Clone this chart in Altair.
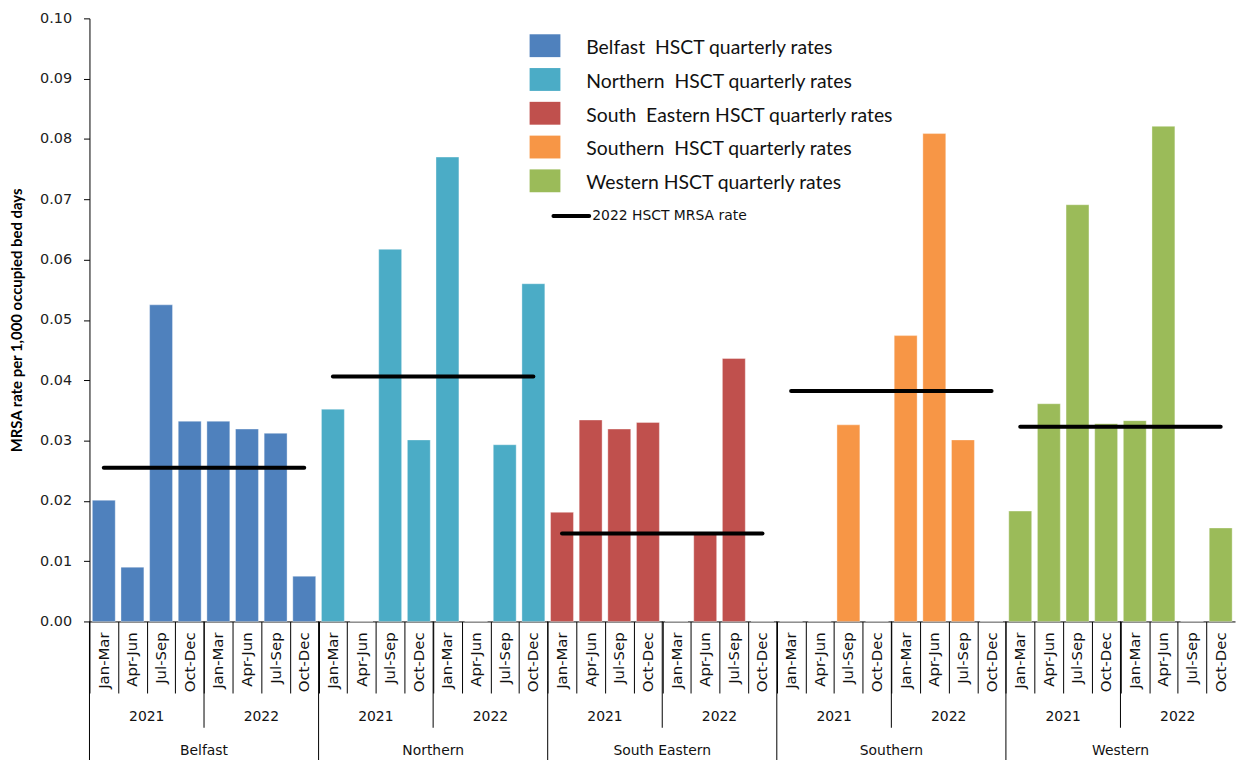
import altair as alt
import pandas as pd

# ---------------- data ----------------
trusts = ["Belfast", "Northern", "South Eastern", "Southern", "Western"]
years = ["2021", "2022"]
quarters = ["Jan-Mar", "Apr-Jun", "Jul-Sep", "Oct-Dec"]

belfast = [0.0201, 0.0090, 0.0525, 0.0332, 0.0332, 0.0319, 0.0312, 0.0075]
northern = [0.0352, 0.0, 0.0617, 0.0301, 0.0770, 0.0, 0.0293, 0.0560]
south_eastern = [0.0181, 0.0334, 0.0319, 0.0330, 0.0, 0.0145, 0.0436, 0.0]
southern = [0.0, 0.0, 0.0326, 0.0, 0.0474, 0.0809, 0.0301, 0.0]
western = [0.0183, 0.0361, 0.0691, 0.0328, 0.0333, 0.0821, 0.0, 0.0155]

rate_2022 = [0.0255, 0.0406, 0.0146, 0.0382, 0.0323]

legend_labels = [
    "Belfast  HSCT quarterly rates",
    "Northern  HSCT quarterly rates",
    "South  Eastern HSCT quarterly rates",
    "Southern  HSCT quarterly rates",
    "Western HSCT quarterly rates",
]
line_legend_label = "2022 HSCT MRSA rate"
y_title = "MRSA rate per 1,000 occupied bed days"

colors = ["#4F81BD", "#4BACC6", "#C0504D", "#F79646", "#9BBB59"]

series = [belfast, northern, south_eastern, southern, western]

# ---------------- tables ----------------
rows = []
for ti, (t, vals) in enumerate(zip(trusts, series)):
    for yi, yr in enumerate(years):
        for qi, q in enumerate(quarters):
            k = yi * 4 + qi
            rows.append({"trust": t, "year": yr, "quarter": q,
                         "idx": ti * 8 + k, "value": vals[k]})
df = pd.DataFrame(rows)

df_rate = pd.DataFrame({"trust": trusts, "rate": rate_2022,
                        "ti": list(range(len(trusts)))})

year_rows = []
for ti, t in enumerate(trusts):
    for yi, yr in enumerate(years):
        year_rows.append({"trust": t, "year": yr, "ti": ti, "yi": yi})
df_year = pd.DataFrame(year_rows)
df_trust = pd.DataFrame({"trust": trusts, "ti": list(range(len(trusts)))})

# ---------------- scales / axes ----------------
W, H = 1153, 607
xscale = alt.Scale(domain=[0, 40], nice=False, zero=False)
xaxis = alt.Axis(values=list(range(40)), labels=False, title=None, grid=False,
                 tickSize=72, tickColor="#000000", domainColor="#000000",
                 tickWidth=1, domainWidth=1)
yscale = alt.Scale(domain=[0, 0.1], nice=False)
yaxis = alt.Axis(values=[i / 100 for i in range(11)], format=".2f", grid=False,
                 title=y_title, titleFont="Lato", titleFontSize=15,
                 titleFontWeight="bold", titleColor="#000000", titlePadding=15,
                 labelFont="DejaVu Sans", labelFontSize=14.5, labelColor="#222222",
                 labelPadding=12, tickSize=6, tickColor="#000000",
                 domainColor="#000000")


def xenc(field):
    return alt.X(field, type="quantitative", scale=xscale, axis=xaxis)


bars = alt.Chart(df).transform_calculate(
    x0="datum.idx + 0.1", x1="datum.idx + 0.9"
).mark_bar(stroke="white", strokeWidth=0.6, strokeOpacity=0.6).encode(
    x=xenc("x0"),
    x2="x1:Q",
    y=alt.Y("value:Q", scale=yscale, axis=yaxis),
    y2=alt.datum(0),
    color=alt.Color("trust:N", scale=alt.Scale(domain=trusts, range=colors),
                    legend=None),
)

rate_lines = alt.Chart(df_rate).transform_calculate(
    xs="datum.ti * 8 + 0.5", xe="datum.ti * 8 + 7.5"
).mark_rule(color="black", strokeWidth=4, strokeCap="round").encode(
    x=xenc("xs"), x2="xe:Q",
    y=alt.Y("rate:Q", scale=yscale, axis=yaxis),
)

quarter_text = alt.Chart(df).transform_calculate(
    xm="datum.idx + 0.5"
).mark_text(angle=270, align="right", baseline="middle", font="DejaVu Sans",
            fontSize=15, color="#111111").encode(
    x=xenc("xm"), y=alt.value(H + 11), text="quarter:N"
)

year_sep = alt.Chart(df_trust).transform_calculate(
    xb="datum.ti * 8 + 4"
).mark_rule(color="black", strokeWidth=1).encode(
    x=xenc("xb"), y=alt.value(H), y2=alt.value(H + 107)
)

trust_sep = alt.Chart(df_trust).transform_calculate(
    xb="datum.ti * 8"
).mark_rule(color="black", strokeWidth=1).encode(
    x=xenc("xb"), y=alt.value(H), y2=alt.value(H + 150)
)

year_text = alt.Chart(df_year).transform_calculate(
    xm="datum.ti * 8 + datum.yi * 4 + 2"
).mark_text(baseline="middle", font="DejaVu Sans", fontSize=14,
            color="#111111").encode(
    x=xenc("xm"), y=alt.value(H + 96), text="year:N"
)

trust_text = alt.Chart(df_trust).transform_calculate(
    xm="datum.ti * 8 + 4"
).mark_text(baseline="middle", font="DejaVu Sans", fontSize=14,
            color="#111111").encode(
    x=xenc("xm"), y=alt.value(H + 130), text="trust:N"
)

# ---------------- legend ----------------
one = pd.DataFrame({"a": [0]})
legend_layers = []
for i, (lab, col) in enumerate(zip(legend_labels, colors)):
    top = 16 + 34 * i
    legend_layers.append(
        alt.Chart(one).mark_rect(color=col).encode(
            x=alt.value(443), x2=alt.value(474),
            y=alt.value(top), y2=alt.value(top + 23))
    )
    legend_layers.append(
        alt.Chart(one).mark_text(align="left", baseline="middle", font="Lato",
                                 fontSize=19.5, color="#111111",
                                 text=lab.replace("  ", " \u00a0")).encode(
            x=alt.value(500), y=alt.value(top + 14))
    )
legend_layers.append(
    alt.Chart(one).mark_rule(color="black", strokeWidth=4, strokeCap="round").encode(
        x=alt.value(467), x2=alt.value(503), y=alt.value(199))
)
legend_layers.append(
    alt.Chart(one).mark_text(align="left", baseline="middle", font="DejaVu Sans",
                             fontSize=14, color="#111111",
                             text=line_legend_label).encode(
        x=alt.value(506), y=alt.value(199))
)

chart = alt.layer(
    bars, rate_lines, quarter_text, year_sep, trust_sep, year_text, trust_text,
    *legend_layers
).properties(
    width=W, height=H,
    autosize=alt.AutoSizeParams(type="none"),
    padding={"left": 82, "top": 8, "right": 3, "bottom": 137},
    background="white",
).configure_view(stroke=None)

chart.save("out.html", embed_options={"renderer": "svg", "actions": False})
